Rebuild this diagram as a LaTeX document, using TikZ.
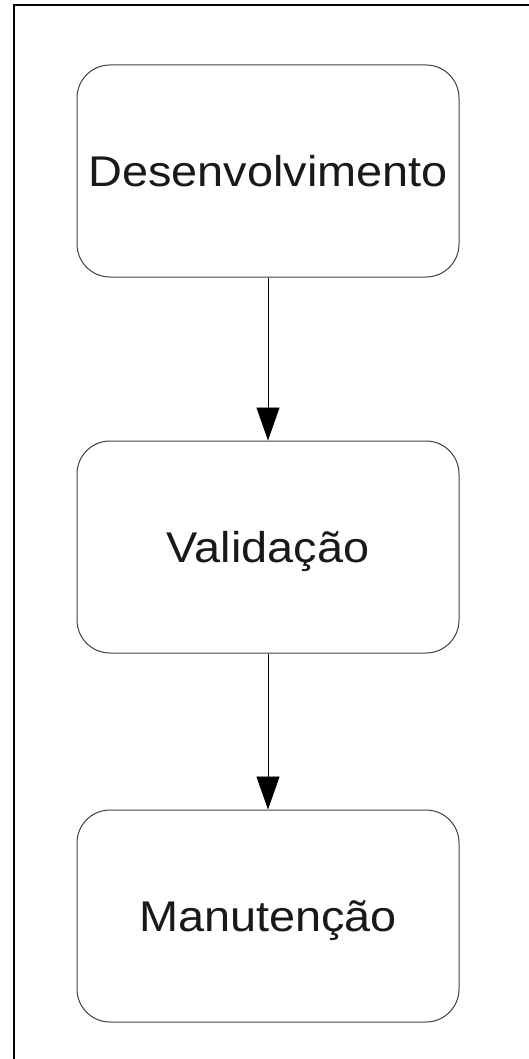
\documentclass[tikz,border=0pt]{standalone}
\usepackage{fontspec}
\setmainfont{Liberation Sans}[FakeStretch=1.09]
\usetikzlibrary{arrows.meta}
\tikzset{
  stagebox/.style={draw=black!75, line width=1pt, rounded corners=33pt,
    minimum width=382pt, minimum height=212pt, inner sep=0pt,
    text height=31pt, text depth=0pt, text=black!90,
    font=\fontsize{43}{50}\selectfont},
  flowarrow/.style={draw=black, line width=0.9pt, -{Triangle[width=23pt,length=33pt]}},
  framepart/.style={draw=black, line width=1.3pt}
}
\begin{document}
\begin{tikzpicture}[x=1pt,y=-1pt]
\useasboundingbox (0,0) rectangle (529,1059);
\coordinate (fb) at (14,1059);
\coordinate (fc) at (14,5);
\coordinate (fr) at (529,5);
\draw[framepart] (fb) -- (fc) -- (fr);
\node[stagebox] (dev) at (268,171) {Desenvolvimento};
\node[stagebox] (val) at (268,547) {Validação};
\node[stagebox] (man) at (268,916) {Manutenção};
\draw[flowarrow] (dev) -- (val);
\draw[flowarrow] (val) -- (man);
\end{tikzpicture}
\end{document}
